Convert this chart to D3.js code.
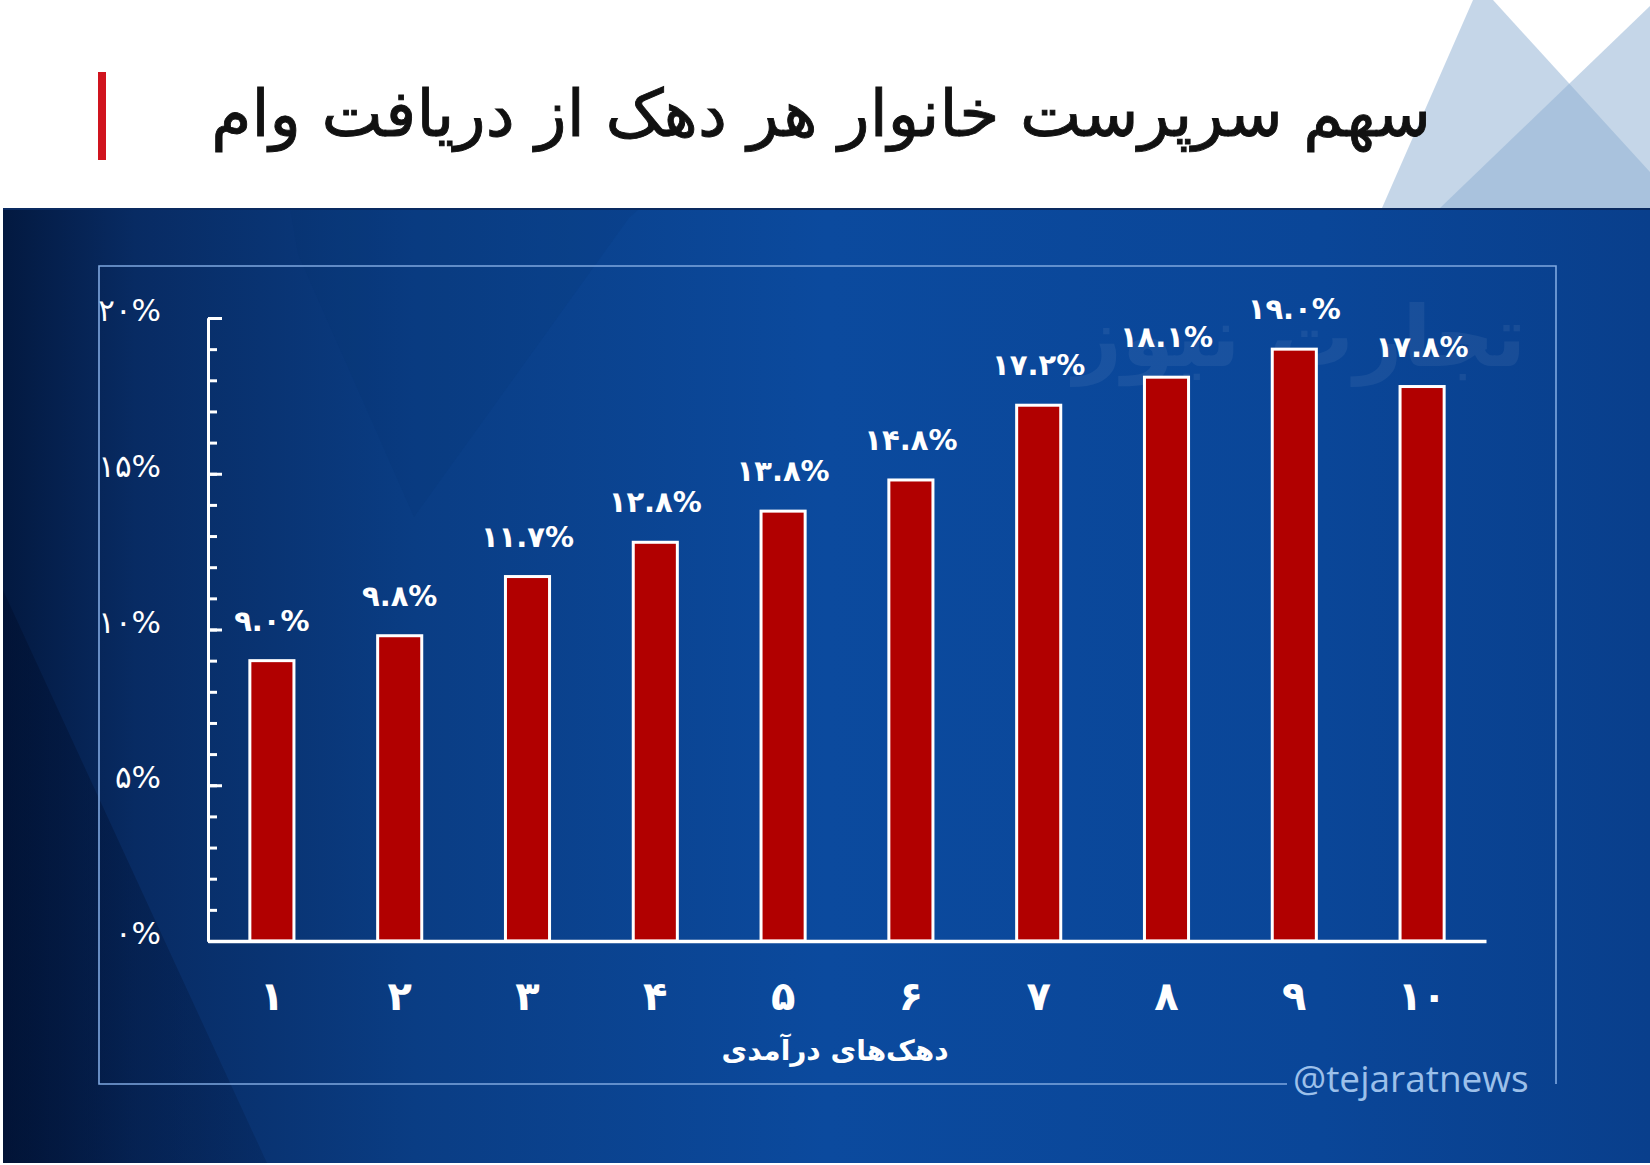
<!DOCTYPE html>
<html><head><meta charset="utf-8">
<script src="https://cdn.jsdelivr.net/npm/d3@7/dist/d3.min.js"></script>
<style>body{margin:0;background:#fff;} svg{display:block}</style>
</head><body><svg id="c" width="1650" height="1165"></svg>
<script>
// ---- data ----
const title = "سهم سرپرست خانوار هر دهک از دریافت وام";
const xTitle = "دهک‌های درآمدی";
const categories = ["۱","۲","۳","۴","۵","۶","۷","۸","۹","۱۰"];
const values = [9.0, 9.8, 11.7, 12.8, 13.8, 14.8, 17.2, 18.1, 19.0, 17.8];
const yTicks = [0, 5, 10, 15, 20];
const yTickLabels = ["۰%", "۵%", "۱۰%", "۱۵%", "۲۰%"];
const minorTicks = d3.range(0, 21, 1);
const watermark = "تجارت نیوز";
const handle = "@tejaratnews";

const faDigits = "۰۱۲۳۴۵۶۷۸۹";
const toFa = s => String(s).replace(/[0-9]/g, d => faDigits[+d]);
const fmt = v => toFa(v.toFixed(1)) + "%";

const svg = d3.select("#c");
const W = 1650, H = 1165;
const FONT = "'DejaVu Sans', sans-serif";

const defs = svg.append("defs");
const g1 = defs.append("linearGradient").attr("id", "bg").attr("x1", 0).attr("x2", 1).attr("y1", 0).attr("y2", 0);
[[0, "#031940"], [0.08, "#082b63"], [0.25, "#0a3d84"], [0.5, "#0b4a9e"], [0.8, "#0a4698"], [1, "#093f8c"]]
  .forEach(([o, c]) => g1.append("stop").attr("offset", o).attr("stop-color", c));
const g2 = defs.append("linearGradient").attr("id", "dk").attr("x1", 0).attr("x2", 1).attr("y1", 0).attr("y2", 0);
[[0, "#011030", 0.6], [1, "#021a45", 0.25]]
  .forEach(([o, c, a]) => g2.append("stop").attr("offset", o).attr("stop-color", c).attr("stop-opacity", a));

// header
svg.append("rect").attr("width", W).attr("height", H).attr("fill", "#fff");
const tri = svg.append("g");
tri.append("polygon").attr("points", "1473,0 1493,0 1650,172 1650,208 1382,208").attr("fill", "#8fb0d2").attr("opacity", 0.52);
tri.append("polygon").attr("points", "1650,6 1650,208 1440,208").attr("fill", "#8fb0d2").attr("opacity", 0.52);
svg.append("rect").attr("x", 98).attr("y", 72).attr("width", 8).attr("height", 88).attr("fill", "#d0141e");
svg.append("text").attr("x", 1431).attr("y", 136).attr("text-anchor", "end")
  .attr("font-family", FONT).attr("font-size", 65).attr("fill", "#111")
  .attr("stroke", "#111").attr("stroke-width", 0.9)
  .text(title);

// panel
svg.append("rect").attr("x", 3).attr("y", 208).attr("width", W - 3).attr("height", 955).attr("fill", "url(#bg)");
svg.append("line").attr("x1", 3).attr("x2", W).attr("y1", 209).attr("y2", 209).attr("stroke", "#0a2a60").attr("stroke-width", 2);
// subtle shapes
svg.append("polygon").attr("points", "3,590 267,1163 3,1163").attr("fill", "url(#dk)");
svg.append("polygon").attr("points", "298,254 414,517 629,218 640,208 290,208").attr("fill", "#06306a").attr("opacity", 0.12);

// watermark
svg.append("text").attr("x", 1526).attr("y", 366).attr("text-anchor", "end")
  .attr("font-family", FONT).attr("font-weight", "bold").attr("font-size", 84)
  .attr("fill", "#ffffff").attr("opacity", 0.06).text(watermark);

// frame
svg.append("path")
  .attr("d", "M1287,1084 L99,1084 L99,266 L1556,266 L1556,1084")
  .attr("fill", "none").attr("stroke", "#7fa8e0").attr("stroke-width", 1.6);
svg.append("text").attr("x", 1293).attr("y", 1092).attr("font-family", "'Open Sans', 'DejaVu Sans', sans-serif")
  .attr("font-size", 37).attr("fill", "#9cc0ea").text(handle);

// scales
const x = d3.scaleBand().domain(categories).range([208, 1486]).paddingInner(0.655).paddingOuter(0.3275);
const y = d3.scaleLinear().domain([0, 20]).range([941, 318]);

// bars
svg.append("g").selectAll("rect").data(values).join("rect")
  .attr("x", (d, i) => x(categories[i]))
  .attr("y", d => y(d))
  .attr("width", x.bandwidth())
  .attr("height", d => y(0) - y(d))
  .attr("fill", "#b10000").attr("stroke", "#fff").attr("stroke-width", 3);

// y axis
const axMinor = d3.axisRight(y).tickValues(minorTicks).tickSize(9).tickSizeOuter(0).tickFormat("");
const axMajor = d3.axisRight(y).tickValues(yTicks).tickSize(14).tickSizeOuter(0).tickFormat("");
const gy1 = svg.append("g").attr("transform", "translate(208,0)").call(axMinor);
const gy2 = svg.append("g").attr("transform", "translate(208,0)").call(axMajor);
[gy1, gy2].forEach(g => {
  g.selectAll("line").attr("stroke", "#fff").attr("stroke-width", 3);
  g.select(".domain").attr("stroke", "#fff").attr("stroke-width", 3);
});
svg.append("g").selectAll("text").data(yTicks).join("text")
  .attr("x", 161).attr("y", d => y(d) + 3).attr("text-anchor", "end")
  .attr("font-family", FONT).attr("font-size", 31).attr("fill", "#fff")
  .text((d, i) => yTickLabels[i]);

// x axis
const gx = svg.append("g").attr("transform", "translate(0,941)")
  .call(d3.axisBottom(x).tickSize(0).tickSizeOuter(0).tickFormat(""));
gx.select(".domain").attr("stroke", "#fff").attr("stroke-width", 3.5);
svg.append("g").selectAll("text").data(categories).join("text")
  .attr("x", d => x(d) + x.bandwidth() / 2).attr("y", 1010).attr("text-anchor", "middle")
  .attr("font-family", FONT).attr("font-weight", "bold").attr("font-size", 40).attr("fill", "#fff")
  .text(d => d);

// value labels
svg.append("g").selectAll("text").data(values).join("text")
  .attr("x", (d, i) => x(categories[i]) + x.bandwidth() / 2).attr("y", d => y(d) - 30)
  .attr("text-anchor", "middle").attr("font-family", FONT).attr("font-weight", "bold")
  .attr("font-size", 29).attr("letter-spacing", -0.8).attr("fill", "#fff").text(d => fmt(d));

// x title
svg.append("text").attr("x", 835).attr("y", 1060).attr("text-anchor", "middle")
  .attr("font-family", FONT).attr("font-weight", "bold").attr("font-size", 28).attr("fill", "#fff")
  .text(xTitle);
</script></body></html>
